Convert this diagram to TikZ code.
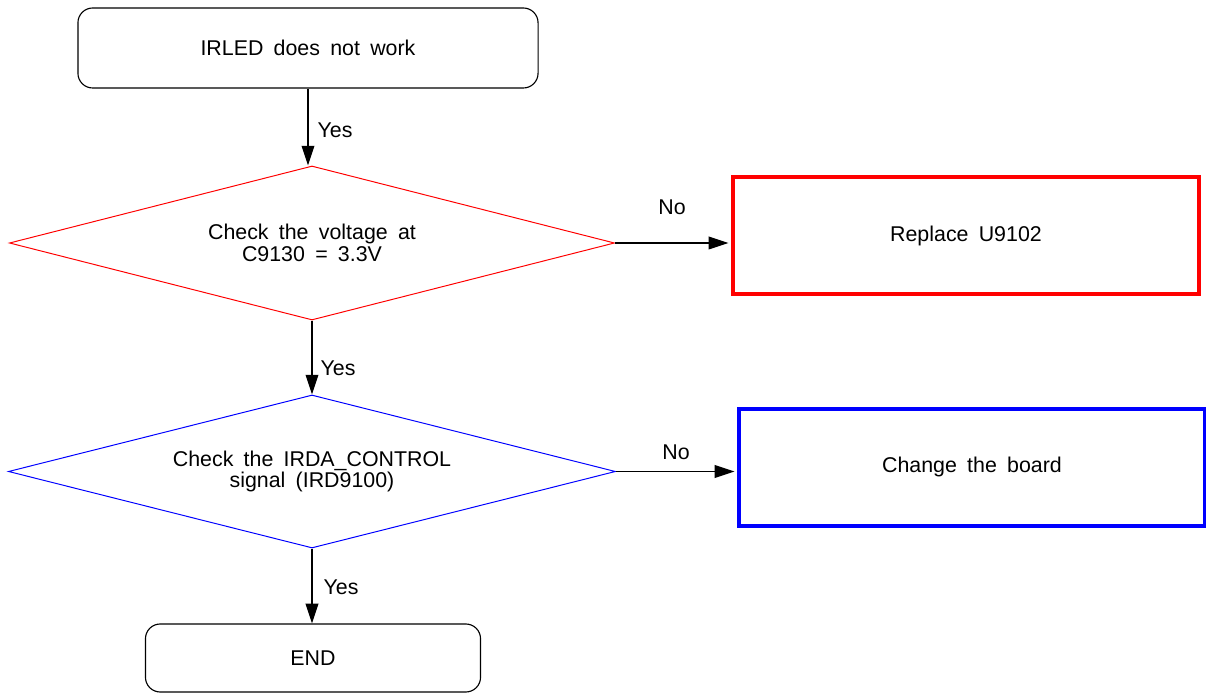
\documentclass[tikz,border=0pt]{standalone}
\usepackage{fontspec}
\setmainfont{Liberation Sans}
\usetikzlibrary{positioning,arrows.meta,shapes.geometric}
\newcommand{\flowfont}{\fontsize{15.2}{15.2}\selectfont\spaceskip=0.48em\relax}

\begin{document}
\begin{tikzpicture}[
  x=0.025cm, y=-0.025cm,
  font=\flowfont,
  >={Triangle[length=14pt,width=9pt]},
  termbox/.style={draw=black, line width=0.8pt, rounded corners=10.5pt, inner sep=0pt, align=center},
  decbox/.style={diamond, aspect=3.93, line width=0.7pt, inner sep=0pt, align=center, minimum width=15.125cm, minimum height=3.85cm},
  actbox/.style={draw, line width=2.5pt, inner sep=0pt, minimum width=11.65cm, minimum height=2.925cm},
  flowarrow/.style={->, draw=black, line width=1pt},
  lbl/.style={anchor=base, inner sep=0pt}
]
  \useasboundingbox (0,0) rectangle (1206,694);
  \node[termbox, minimum width=11.5cm, minimum height=2cm] (start) at (308,48) {IRLED does not work};
  \node[decbox, draw=red] (chkv) at (312,243) {Check the voltage at\\C9130 = 3.3V};
  \node[actbox, draw=red] (repu) at (966,235.5) {Replace U9102};
  \node[decbox, draw=blue, minimum width=15.175cm, minimum height=3.825cm] (chkirda) at (312,471.5) {Check the IRDA\_CONTROL\\signal (IRD9100)};
  \node[actbox, draw=blue] (chgb) at (972,467.3) {Change the board};
  \node[termbox, minimum width=8.375cm, minimum height=1.7cm] (endb) at (313,658) {END};
  \draw[flowarrow] (start.south) -- (start.south |- chkv.north);
  \draw[flowarrow] (chkv.south) -- (chkirda.north);
  \draw[flowarrow] (chkirda.south) -- (chkirda.south |- endb.north);
  \draw[flowarrow, shorten >=2pt] (chkv.east) -- (chkv.east -| repu.west);
  \draw[flowarrow, shorten >=2pt] (chkirda.east) -- (chkirda.east -| chgb.west);
  \node[lbl] (yes1) at (335,138) {Yes};
  \node[lbl] (yes2) at (338,376) {Yes};
  \node[lbl] (yes3) at (341,595) {Yes};
  \node[lbl] (no1) at (672,215) {No};
  \node[lbl] (no2) at (676,460) {No};
\end{tikzpicture}
\end{document}
